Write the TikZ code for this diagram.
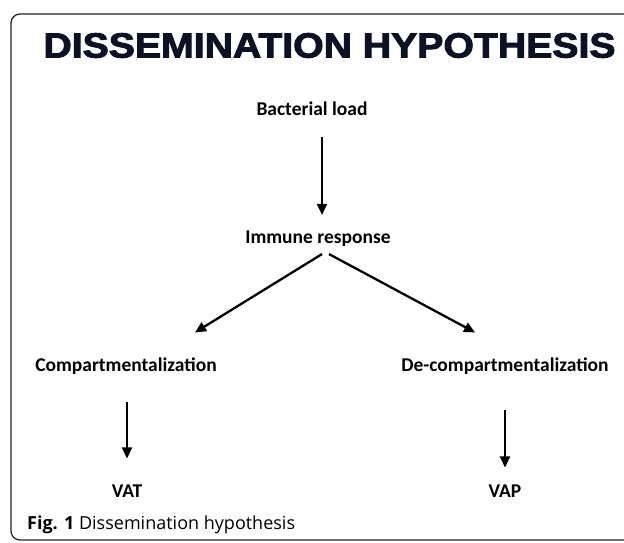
\documentclass[tikz,border=0pt]{standalone}
\usepackage{fontspec}
\setmainfont{Carlito}
\newfontfamily\titlefont[FakeBold=2.5]{Liberation Sans Bold}
\newfontfamily\capfont{Open Sans}
\usetikzlibrary{arrows.meta}
\definecolor{titleink}{RGB}{14,16,36}
\tikzset{
  box/.style={font=\bfseries\fontsize{19.5}{19.5}\selectfont, inner sep=0pt},
  flow/.style={line width=2.3pt, -{Triangle[length=11pt,width=10pt]}}
}
\begin{document}
\begin{tikzpicture}[x=1pt,y=-1pt]
  \useasboundingbox (0,0) rectangle (624,542);
  \draw[line width=1.3pt, rounded corners=9pt, black!85] (11,14) rectangle (640,540);
  \node[inner sep=0pt, xscale=1.12, text=titleink, font=\titlefont\fontsize{35}{35}\selectfont] (title) at (329.5,45.5) {DISSEMINATION HYPOTHESIS};
  \node[box] (bact) at (312,109) {Bacterial load};
  \node[box] (imm) at (318,239) {Immune response};
  \node[box] (comp) at (126,366) {Compartmentalization};
  \node[box] (decomp) at (505,366) {De-compartmentalization};
  \node[box] (vat) at (127,491) {VAT};
  \node[box] (vap) at (505,491) {VAP};
  \node[anchor=base west, inner sep=0pt, font=\capfont\fontsize{18}{18}\selectfont] (cap) at (27,529) {\textbf{Fig. 1} Dissemination hypothesis};
  \begin{scope}[flow]
    \draw ([xshift=10pt,yshift=-21pt]bact.south) -- ([xshift=4pt,yshift=16pt]imm.north);
    \draw ([xshift=4pt,yshift=-7pt]imm.south) -- ([xshift=69pt,yshift=25pt]comp.north);
    \draw ([xshift=11pt,yshift=-7pt]imm.south) -- ([xshift=-30pt,yshift=25pt]decomp.north);
    \draw ([xshift=1pt,yshift=-27pt]comp.south) -- ([yshift=26pt]vat.north);
    \draw ([yshift=-35pt]decomp.south) -- ([yshift=17pt]vap.north);
  \end{scope}
\end{tikzpicture}
\end{document}
